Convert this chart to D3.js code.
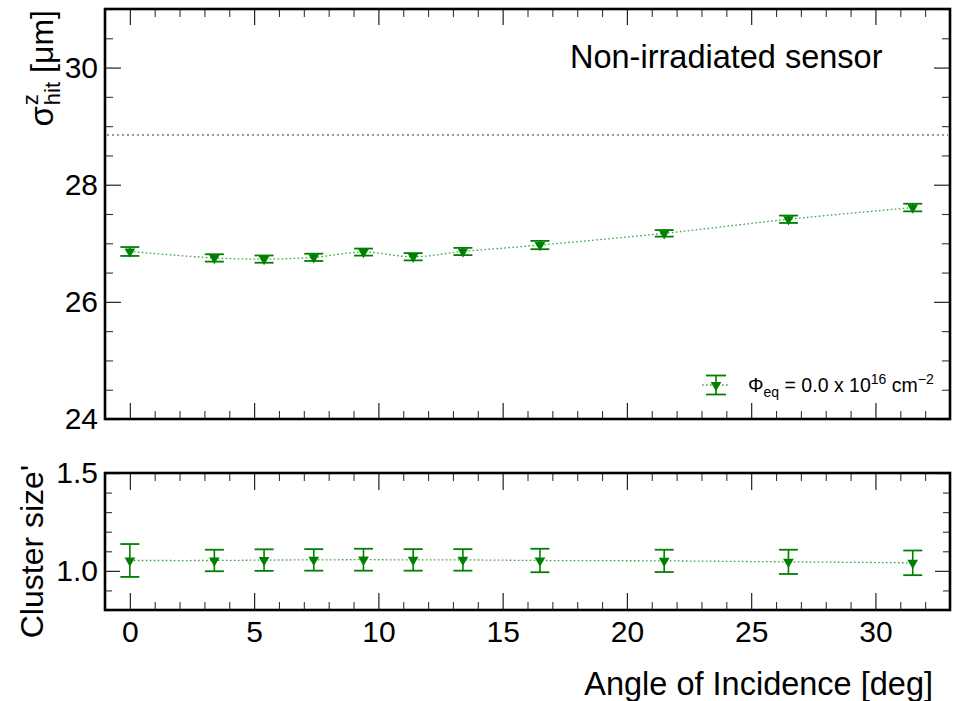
<!DOCTYPE html>
<html><head>
<meta charset="utf-8">
<title>Spatial resolution vs angle</title>
<script src="https://d3js.org/d3.v7.min.js"></script>
<style>
body { margin: 0; background: #fff; }
text { font-family: 'Liberation Sans', Arial, Helvetica, sans-serif; fill: #000; }
</style>
</head>
<body>
<div id="chart"></div>
<script>
// values
var angles      = [0, 3.4, 5.4, 7.4, 9.4, 11.4, 13.4, 16.5, 21.5, 26.5, 31.5],
    sigmaZ      = [26.86, 26.75, 26.73, 26.76, 26.85, 26.77, 26.86, 26.97, 27.17, 27.41, 27.61],
    sigmaErr    = [0.076, 0.063, 0.062, 0.062, 0.06, 0.062, 0.062, 0.071, 0.056, 0.063, 0.065],
    clusterSize = [1.053, 1.053, 1.055, 1.056, 1.057, 1.056, 1.056, 1.053, 1.051, 1.046, 1.041],
    clusterErr  = [0.084, 0.055, 0.055, 0.055, 0.056, 0.055, 0.055, 0.06, 0.057, 0.062, 0.063],
    refSigma    = 28.85;

var xMajor = [0, 5, 10, 15, 20, 25, 30],
    yTopMajor = [24, 26, 28, 30],
    yBotMajor = [1.0, 1.5];

var W = 954, H = 701,
    left = 105, right = 950,
    top1 = 9, bot1 = 419,
    top2 = 473, bot2 = 610,
    green = "#008000";

var svg = d3.select("#chart").append("svg")
    .attr("width", W).attr("height", H);

var x = d3.scaleLinear().domain([-1, 33]).range([left, right]);
var yTop = d3.scaleLinear().domain([24, 31]).range([bot1, top1]);
var yBot = d3.scaleLinear().domain([0.8, 1.5]).range([bot2, top2]);

function minorOf(lo, hi, step, majors) {
  var out = [];
  for (var v = lo; v <= hi + 1e-9; v += step) {
    var r = Math.round(v * 1000) / 1000;
    if (!majors.some(function(m) { return Math.abs(m - r) < 1e-6; })) out.push(r);
  }
  return out;
}

function frame(yScale, yTop_, yBot_, yMajor, yMinor, yFmt, xLabels, majLen, minLen) {
  var g = svg.append("g");
  var xMinor = minorOf(0, 32, 1, xMajor);
  var sides = [
    {ax: d3.axisBottom(x), t: "translate(0," + yBot_ + ")", v: xMajor, n: xMinor, lab: xLabels},
    {ax: d3.axisTop(x), t: "translate(0," + yTop_ + ")", v: xMajor, n: xMinor, lab: false},
    {ax: d3.axisLeft(yScale), t: "translate(" + left + ",0)", v: yMajor, n: yMinor, lab: true},
    {ax: d3.axisRight(yScale), t: "translate(" + right + ",0)", v: yMajor, n: yMinor, lab: false}
  ];
  sides.forEach(function(s, i) {
    var isY = i > 1;
    var ml = isY ? majLen[1] : majLen[0];
    var nl = isY ? minLen[1] : minLen[0];
    var a = g.append("g").attr("transform", s.t)
      .call(s.ax.tickValues(s.v).tickSize(-ml)
        .tickPadding(isY ? 7 : 11)
        .tickFormat(s.lab ? (isY ? yFmt : d3.format("d")) : ""));
    a.select(".domain").remove();
    a.selectAll("line").attr("stroke", "#222").attr("stroke-width", 1.2);
    a.selectAll("text").attr("font-size", 30)
      .style("font-family", "'Liberation Sans', Arial, sans-serif");
    var b = g.append("g").attr("transform", s.t)
      .call(s.ax.tickValues(s.n).tickSize(-nl).tickFormat(""));
    b.select(".domain").remove();
    b.selectAll("line").attr("stroke", "#333").attr("stroke-width", 1.1);
    s.ax.tickFormat(null);
  });
  g.append("rect")
    .attr("x", left).attr("y", yTop_)
    .attr("width", right - left).attr("height", yBot_ - yTop_)
    .attr("fill", "none").attr("stroke", "#000").attr("stroke-width", 2.6);
}

frame(yTop, top1, bot1, yTopMajor, minorOf(24, 31, 0.5, yTopMajor), d3.format("d"), false, [16, 16], [8, 8]);
frame(yBot, top2, bot2, yBotMajor, minorOf(0.8, 1.5, 0.1, yBotMajor), d3.format(".1f"), true, [17, 15], [8, 7]);

// reference line
svg.append("line")
  .attr("x1", left + 2).attr("x2", right - 2)
  .attr("y1", yTop(refSigma)).attr("y2", yTop(refSigma))
  .attr("stroke", "#777").attr("stroke-width", 1.5)
  .attr("stroke-dasharray", "2,3");

var tri = d3.symbol(d3.symbolTriangle, 50);

function series(yScale, vals, errs) {
  var pts = angles.map(function(a, i) { return {x: a, y: vals[i], e: errs[i]}; });
  var g = svg.append("g");
  g.append("path")
    .datum(pts)
    .attr("fill", "none")
    .attr("stroke", green).attr("stroke-opacity", 0.75)
    .attr("stroke-width", 1.3)
    .attr("stroke-dasharray", "1.6,2.4")
    .attr("d", d3.line().curve(d3.curveCatmullRom)
      .x(function(d) { return x(d.x); })
      .y(function(d) { return yScale(d.y); }));
  var p = g.selectAll(".pt").data(pts).join("g")
    .attr("transform", function(d) { return "translate(" + x(d.x) + "," + yScale(d.y) + ")"; });
  p.append("line")
    .attr("y1", function(d) { return yScale(d.y + d.e) - yScale(d.y); })
    .attr("y2", function(d) { return yScale(d.y - d.e) - yScale(d.y); })
    .attr("stroke", green).attr("stroke-width", 1.6);
  [1, -1].forEach(function(sgn) {
    p.append("line")
      .attr("x1", -9.5).attr("x2", 9.5)
      .attr("y1", function(d) { return yScale(d.y + sgn * d.e) - yScale(d.y); })
      .attr("y2", function(d) { return yScale(d.y + sgn * d.e) - yScale(d.y); })
      .attr("stroke", green).attr("stroke-width", 1.8);
  });
  p.append("path").attr("d", tri).attr("transform", "rotate(180)").attr("fill", green);
}

series(yTop, sigmaZ, sigmaErr);
series(yBot, clusterSize, clusterErr);

// title inside top pad
svg.append("text")
  .attr("x", 570).attr("y", 68)
  .attr("font-size", 32.5)
  .text("Non-irradiated sensor");

// legend
var lg = svg.append("g").attr("transform", "translate(716,385)");
lg.append("line").attr("x1", -14).attr("x2", 12)
  .attr("stroke", green).attr("stroke-opacity", 0.75).attr("stroke-width", 1.3)
  .attr("stroke-dasharray", "1.6,2.4");
lg.append("line").attr("y1", -9.5).attr("y2", 9.5).attr("stroke", green).attr("stroke-width", 1.6);
[-9.5, 9.5].forEach(function(yy) {
  lg.append("line").attr("x1", -10).attr("x2", 10).attr("y1", yy).attr("y2", yy)
    .attr("stroke", green).attr("stroke-width", 1.8);
});
lg.append("path").attr("d", tri).attr("transform", "rotate(180)").attr("fill", green);

var lt = svg.append("text").attr("x", 748).attr("y", 392).attr("font-size", 19.5);
lt.append("tspan").text("Φ");
lt.append("tspan").attr("font-size", 14).attr("dy", 5).text("eq");
lt.append("tspan").attr("dy", -5).text(" = 0.0 x 10");
lt.append("tspan").attr("font-size", 14).attr("dy", -8).text("16");
lt.append("tspan").attr("dy", 8).text(" cm");
lt.append("tspan").attr("font-size", 14).attr("dy", -8).text("−2");

// y title, top pad: sigma^z_hit [um]
var yt = svg.append("g");
var s1 = yt.append("text").attr("font-size", 33).text("σ");
var w1 = s1.node().getComputedTextLength();
yt.append("text").attr("font-size", 22).attr("x", w1 + 1).attr("y", -15).text("z");
var s3 = yt.append("text").attr("font-size", 22).attr("x", w1 + 1).attr("y", 7).text("hit");
var w3 = s3.node().getComputedTextLength();
var s4 = yt.append("text").attr("font-size", 32).attr("x", w1 + w3 + 10).text("[μm]");
var total = w1 + w3 + 10 + s4.node().getComputedTextLength();
yt.attr("transform", "translate(53," + (10 + total) + ") rotate(-90)");

// y title, bottom pad
svg.append("text")
  .attr("transform", "translate(43,465) rotate(-90)")
  .attr("text-anchor", "end")
  .attr("font-size", 32)
  .text("Cluster size'");

// x title
svg.append("text")
  .attr("x", 933).attr("y", 695)
  .attr("text-anchor", "end")
  .attr("font-size", 32.5)
  .text("Angle of Incidence [deg]");
</script>
</body>
</html>
